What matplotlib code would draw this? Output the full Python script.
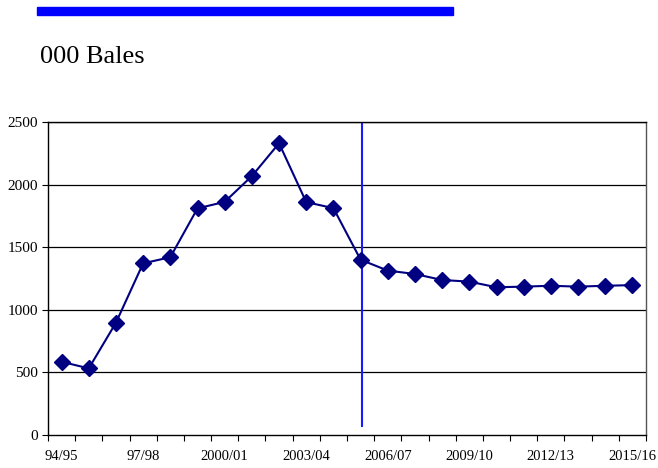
import numpy as np
import matplotlib.pyplot as plt
from matplotlib.patches import Rectangle

# Seasons 94/95 .. 2015/16
seasons = ["94/95", "95/96", "96/97", "97/98", "98/99", "99/00", "2000/01",
           "2001/02", "2002/03", "2003/04", "2004/05", "2005/06", "2006/07",
           "2007/08", "2008/09", "2009/10", "2010/11", "2011/12", "2012/13",
           "2013/14", "2014/15", "2015/16"]
bales = [585, 532, 897, 1371, 1420, 1810, 1862, 2068, 2330, 1860, 1812, 1400,
         1313, 1286, 1238, 1225, 1180, 1185, 1192, 1185, 1192, 1197]
yticks = [0, 500, 1000, 1500, 2000, 2500]
label_every = 3
marker_season = 11.07   # vertical divider, just right of 2005/06
marker_bottom = 70

plt.rcParams['font.family'] = ['Liberation Serif', 'DejaVu Serif']

fig = plt.figure(figsize=(6.58, 4.68), dpi=100)

# blue bar and title above the chart
fig.patches.append(Rectangle((37 / 658, 1 - 15 / 468), 416 / 658, 8 / 468,
                             transform=fig.transFigure, color="#0000FF"))
fig.text(40 / 658, 1 - 57 / 468, "000 Bales", fontsize=19, va="center", ha="left")

ax = fig.add_axes([48 / 658, 33 / 468, 598 / 658, 313 / 468])
x = np.arange(len(seasons))

for yv in yticks[1:]:
    ax.axhline(yv, color="black", lw=0.9, zorder=1)

ax.plot(x, bales, color="#000080", lw=1.5, marker="D", markersize=8,
        markerfacecolor="#000080", markeredgecolor="#000080", zorder=3)

ax.plot([marker_season, marker_season], [marker_bottom, 2500], color="#1a1aff",
        lw=1.5, zorder=2)

ax.set_xlim(-0.5, len(seasons) - 0.5)
ax.set_ylim(0, 2500)
ax.set_yticks(yticks)
ax.set_xticks(np.arange(len(seasons) + 1) - 0.5)
ax.set_xticklabels([])
ax.set_xticks(x[::label_every], minor=True)
ax.set_xticklabels(seasons[::label_every], minor=True)
ax.tick_params(axis="x", which="minor", length=0, labelsize=10.5, pad=11)
ax.tick_params(axis="x", which="major", length=4, direction="out", width=0.8)
ax.tick_params(axis="y", length=4, direction="out", width=0.8, labelsize=11, pad=3)

for s in ["left", "bottom", "top"]:
    ax.spines[s].set_color("black")
    ax.spines[s].set_linewidth(1.0)
ax.spines["right"].set_color("#555555")
ax.spines["right"].set_linewidth(1.0)

fig.savefig("out.png", dpi=100)
